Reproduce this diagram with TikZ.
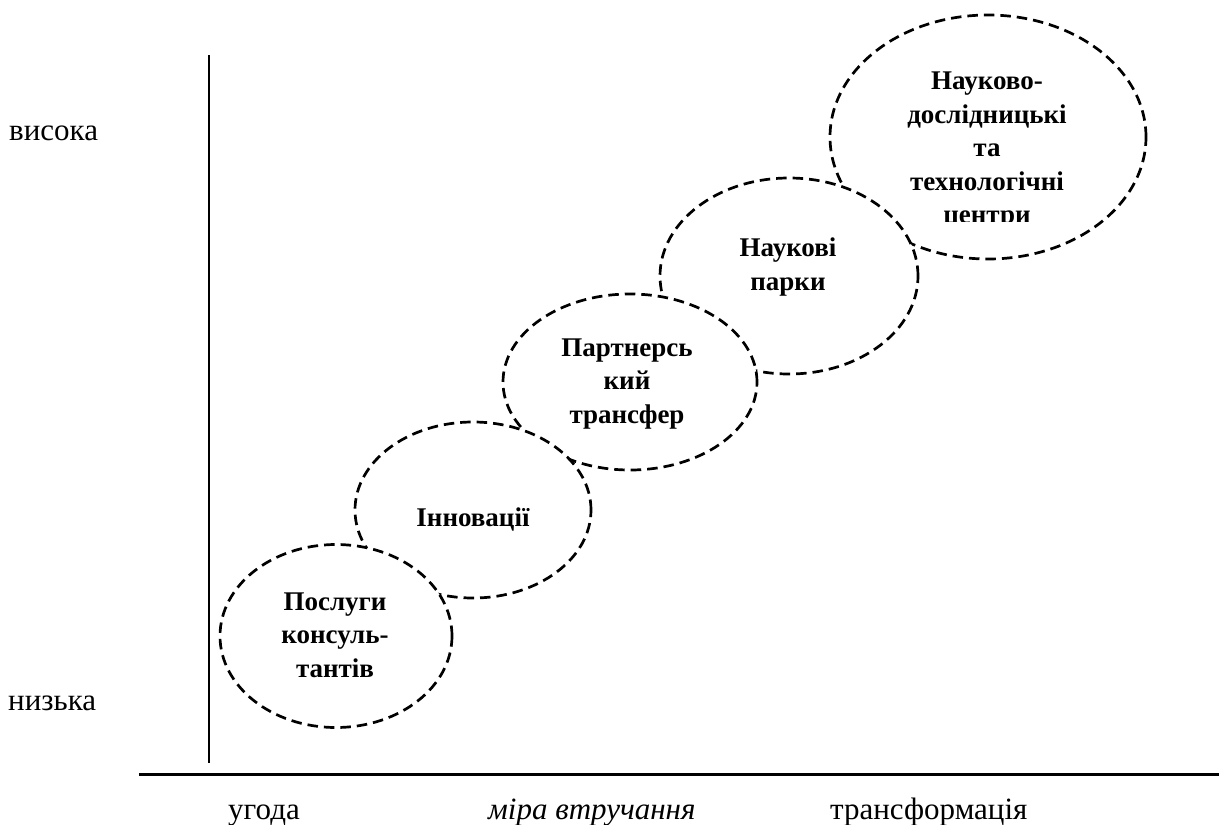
\documentclass[tikz,border=0pt]{standalone}
\usepackage{fontspec}
\setmainfont{Liberation Serif}
\usetikzlibrary{shapes.geometric}

\begin{document}
\begin{tikzpicture}[x=1pt,y=-1pt,
        blob/.style={ellipse,draw,fill=white,line width=2.7pt,dash pattern=on 10.5pt off 6pt,inner sep=0pt},
        lbl/.style={font=\bfseries\fontsize{27}{33.5}\selectfont,align=center,inner sep=0pt},
        axlbl/.style={font=\fontsize{31}{36}\selectfont,inner sep=0pt}]
        \useasboundingbox (0,0) rectangle (1219,825);
        % axes
        \coordinate (ytop) at (209,55);
        \coordinate (ybot) at (209,763);
        \coordinate (xl) at (139,774);
        \coordinate (xr) at (1219,774);
        \draw[line width=2.2pt] (ytop) -- (ybot);
        \draw[line width=3pt] (xl) -- (xr);
        \node[axlbl,anchor=west] (high) at (9,133){висока};
        \node[axlbl,anchor=west] (low) at (8,703){низька};
        \node[axlbl,anchor=base west] (deal) at (228,819){угода};
        \node[axlbl,anchor=base west] (degree) at (488,819){\itshape міра втручання};
        \node[axlbl,anchor=base west] (transf) at (830,819){трансформація};
        % ellipses, top one first
        \node[blob,minimum width=316pt,minimum height=244pt] (centres) at (988,137){};
        \begin{scope}
            \clip (820,20) rectangle (1150,221);
            \node[lbl] (centrestxt) at (987,150){\strut Науково-\\дослідницькі\\та\\технологічні\\центри\strut};
        \end{scope}
        \node[blob,minimum width=258pt,minimum height=196pt] (parks) at (789,276){};
        \node[lbl] (parkstxt) at (788,267){\strut Наукові\\парки\strut};
        \node[blob,minimum width=254pt,minimum height=176pt] (partner) at (630,382){};
        \node[lbl] (partnertxt) at (627,383){\strut Партнерсь\\кий\\трансфер\strut};
        \node[blob,minimum width=236pt,minimum height=176pt] (innov) at (473,510){};
        \node[lbl] (innovtxt) at (473,520){\strut Інновації\strut};
        \node[blob,minimum width=232pt,minimum height=183pt] (consult) at (336,636){};
        \node[lbl] (consulttxt) at (335,637){\strut Послуги\\консуль-\\тантів\strut};
    \end{tikzpicture}
\end{document}
